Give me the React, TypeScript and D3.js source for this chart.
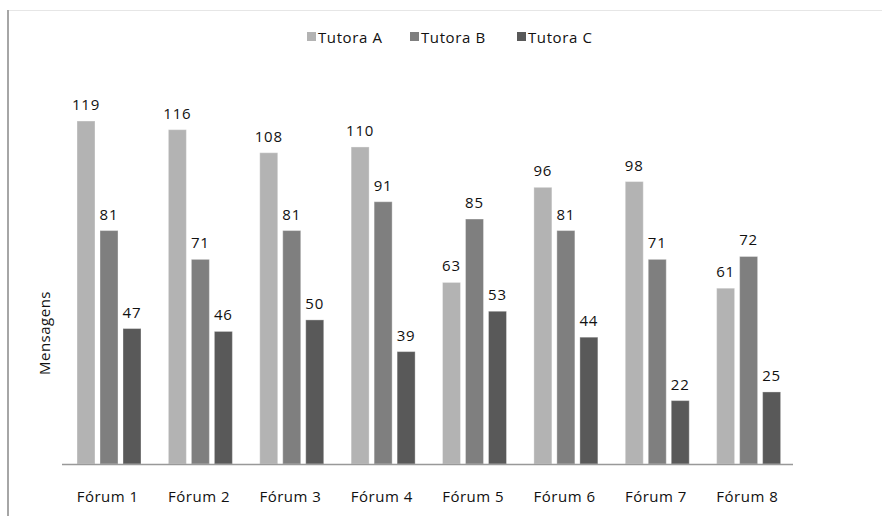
import React from "react";
import * as d3 from "d3";

const forums = ["Fórum 1", "Fórum 2", "Fórum 3", "Fórum 4", "Fórum 5", "Fórum 6", "Fórum 7", "Fórum 8"];
const seriesNames = ["Tutora A", "Tutora B", "Tutora C"];
const tutoraA = [119, 116, 108, 110, 63, 96, 98, 61];
const tutoraB = [81, 71, 81, 91, 85, 81, 71, 72];
const tutoraC = [47, 46, 50, 39, 53, 44, 22, 25];
const colors = ["#b3b3b3", "#7f7f7f", "#595959"];

const W = 882;
const H = 516;
const font = "'Open Sans', sans-serif";

export default function App() {
  const series = [tutoraA, tutoraB, tutoraC];
  const x = d3.scaleBand<string>().domain(forums).range([62, 793]);
  const xs = d3
    .scaleBand<string>()
    .domain(seriesNames)
    .range([15, 79])
    .paddingInner(0.217);
  const y = d3.scaleLinear().domain([0, 140]).range([464, 60.5]);

  const legendX = [307, 410, 517];

  return (
    <svg width={W} height={H} style={{ position: "absolute", left: 0, top: 0 }}>
      <rect width={W} height={H} fill="#fff" />
      {/* frame */}
      <line x1={8} x2={W} y1={10.5} y2={10.5} stroke="#e6e6e6" />
      <line x1={8} x2={8} y1={10} y2={H} stroke="#a6a6a6" strokeWidth={2} />

      {/* legend */}
      {seriesNames.map((s, i) => (
        <g key={s} transform={`translate(${legendX[i]},37)`}>
          <rect x={0} y={-5} width={9} height={9} fill={colors[i]} />
          <text x={11} y={5.5} fontFamily={font} fontSize={15} letterSpacing={0.6} fill="#111">
            {s}
          </text>
        </g>
      ))}

      {/* bars */}
      {forums.map((f, fi) => (
        <g key={f} transform={`translate(${x(f)},0)`}>
          {series.map((vals, si) => {
            const bx = xs(seriesNames[si])!;
            const v = vals[fi];
            return (
              <g key={si}>
                <rect
                  x={bx}
                  y={y(v)}
                  width={xs.bandwidth()}
                  height={y(0) - y(v)}
                  fill={colors[si]}
                  stroke="rgba(255,255,255,0.35)"
                  strokeWidth={1}
                />
                <text
                  x={bx + xs.bandwidth() / 2}
                  y={y(v) - 11}
                  textAnchor="middle"
                  fontFamily={font}
                  fontSize={15}
                  letterSpacing={0.8}
                  fill="#111"
                >
                  {v}
                </text>
              </g>
            );
          })}
          <text
            x={x.bandwidth() / 2}
            y={502}
            textAnchor="middle"
            fontFamily={font}
            fontSize={15}
            letterSpacing={0.5}
            fill="#111"
          >
            {f}
          </text>
        </g>
      ))}

      {/* axis */}
      <line x1={x.range()[0]} x2={x.range()[1]} y1={464.5} y2={464.5} stroke="#999" strokeWidth={1.5} />

      <text
        transform="translate(50,333) rotate(-90)"
        textAnchor="middle"
        fontFamily={font}
        fontSize={15}
        letterSpacing={0.5}
        fill="#111"
      >
        Mensagens
      </text>
    </svg>
  );
}
